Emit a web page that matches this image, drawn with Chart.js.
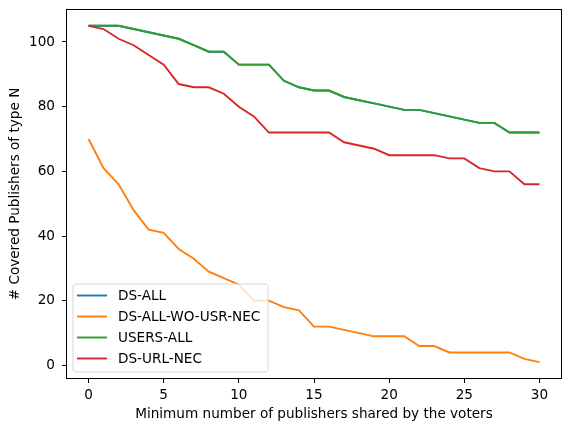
<!DOCTYPE html>
<html>
<head>
<meta charset="utf-8">
<script src="https://cdn.jsdelivr.net/npm/chart.js@4/dist/chart.umd.min.js"></script>
<style>
html,body{margin:0;padding:0;background:#fff;}
#wrap{width:571px;height:432px;}
</style>
</head>
<body>
<div id="wrap"><canvas id="c" width="571" height="432"></canvas></div>
<script>
const xValues = [0,1,2,3,4,5,6,7,8,9,10,11,12,13,14,15,16,17,18,19,20,21,22,23,24,25,26,27,28,29,30];
const dsAll      = [105,105,105,104,103,102,101,99,97,97,93,93,93,88,86,85,85,83,82,81,80,79,79,78,77,76,75,75,72,72,72];
const dsAllWoUsrNec = [70,61,56,48,42,41,36,33,29,27,25,20,20,18,17,12,12,11,10,9,9,9,6,6,4,4,4,4,4,2,1];
const usersAll   = [105,105,105,104,103,102,101,99,97,97,93,93,93,88,86,85,85,83,82,81,80,79,79,78,77,76,75,75,72,72,72];
const dsUrlNec   = [105,104,101,99,96,93,87,86,86,84,80,77,72,72,72,72,72,69,68,67,65,65,65,65,64,64,61,60,60,56,56];
const seriesNames = ["DS-ALL","DS-ALL-WO-USR-NEC","USERS-ALL","DS-URL-NEC"];
const xTicks = [0,5,10,15,20,25,30];
const yTicks = [0,20,40,60,80,100];
const xTitle = "Minimum number of publishers shared by the voters";
const yTitle = "# Covered Publishers of type N";

const colors = ["#1f77b4","#ff7f0e","#2ca02c","#d62728"];
const allSeries = [dsAll, dsAllWoUsrNec, usersAll, dsUrlNec];
const FONT = "'DejaVu Sans', sans-serif";
const FS = 13.6;

const datasets = allSeries.map((vals,i)=>({
  label: seriesNames[i],
  data: vals.map((v,j)=>({x:xValues[j], y:v})),
  borderColor: colors[i],
  backgroundColor: colors[i],
  borderWidth: 1.9,
  pointRadius: 0,
  tension: 0,
  fill: false,
  order: 4 - i
}));

const framePlugin = {
  id: 'frame',
  afterDatasetsDraw(chart){
    const {ctx, chartArea:a} = chart;
    ctx.save();
    ctx.strokeStyle = '#000';
    ctx.lineWidth = 1;
    ctx.strokeRect(Math.round(a.left)+0.5, Math.round(a.top)+0.5, Math.round(a.right-a.left)-1, Math.round(a.bottom-a.top)-1);
    ctx.restore();
    // legend
    const lx = a.left + 7, w = 195, h = 88;
    const ly = a.bottom - 7 - h;
    ctx.save();
    const r = 3;
    ctx.beginPath();
    ctx.moveTo(lx+r, ly);
    ctx.lineTo(lx+w-r, ly); ctx.arcTo(lx+w, ly, lx+w, ly+r, r);
    ctx.lineTo(lx+w, ly+h-r); ctx.arcTo(lx+w, ly+h, lx+w-r, ly+h, r);
    ctx.lineTo(lx+r, ly+h); ctx.arcTo(lx, ly+h, lx, ly+h-r, r);
    ctx.lineTo(lx, ly+r); ctx.arcTo(lx, ly, lx+r, ly, r);
    ctx.closePath();
    ctx.fillStyle = 'rgba(255,255,255,0.8)';
    ctx.fill();
    ctx.strokeStyle = '#d6d6d6';
    ctx.lineWidth = 1;
    ctx.stroke();
    ctx.font = FS + "px " + FONT;
    ctx.textBaseline = 'middle';
    ctx.fillStyle = '#000';
    chart.data.datasets.forEach((ds,i)=>{
      const y = ly + 11.5 + i*21;
      ctx.strokeStyle = ds.borderColor;
      ctx.lineWidth = 1.9;
      ctx.beginPath();
      ctx.moveTo(lx+4, y); ctx.lineTo(lx+34, y);
      ctx.stroke();
      ctx.fillText(ds.label, lx+45, y+0.5);
    });
    ctx.restore();
  }
};

new Chart(document.getElementById('c'), {
  type: 'line',
  data: { datasets },
  options: {
    responsive: false,
    animation: false,
    events: [],
    layout: { padding: { top: 9, right: 9, left: 0, bottom: 0 } },
    plugins: { legend: { display: false }, tooltip: { enabled: false } },
    scales: {
      x: {
        type: 'linear',
        min: -1.5, max: 31.5,
        afterBuildTicks(s){ s.ticks = xTicks.map(v=>({value:v})); },
        afterFit(s){ s.height = 53; s.paddingLeft = 0; s.paddingRight = 0; },
        grid: { display: true, drawOnChartArea: false, drawTicks: true, tickLength: 4, color: '#000', lineWidth: 1 },
        border: { display: false },
        ticks: { color: '#000', font: { family: FONT, size: FS }, padding: 4, maxRotation: 0, autoSkip: false },
        title: { display: true, text: xTitle, color: '#000', font: { family: FONT, size: FS }, padding: { top: 2, bottom: 9 } }
      },
      y: {
        type: 'linear',
        min: -4.2, max: 110.2,
        afterBuildTicks(s){ s.ticks = yTicks.map(v=>({value:v})); },
        afterFit(s){ s.width = 66; s.paddingTop = 0; s.paddingBottom = 0; },
        grid: { display: true, drawOnChartArea: false, drawTicks: true, tickLength: 4, color: '#000', lineWidth: 1 },
        border: { display: false },
        ticks: { color: '#000', font: { family: FONT, size: FS }, padding: 7, autoSkip: false },
        title: { display: true, text: yTitle, color: '#000', font: { family: FONT, size: FS }, padding: { top: 7, bottom: 0 } }
      }
    }
  },
  plugins: [framePlugin]
});
</script>
</body>
</html>
